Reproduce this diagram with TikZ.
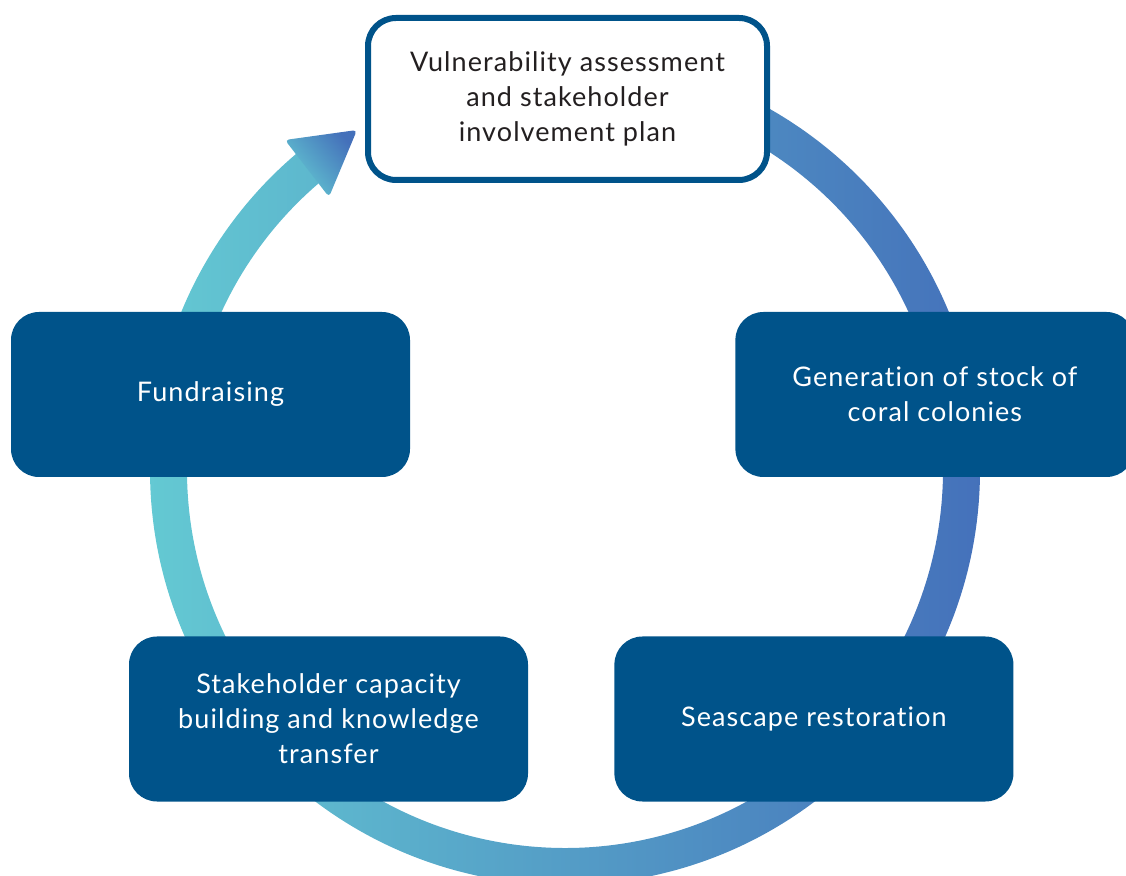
\documentclass[tikz,border=0pt]{standalone}
\usepackage{fontspec}
\setmainfont{Lato}[LetterSpace=4, Ligatures=NoCommon]
\usepackage{tikz}
\usetikzlibrary{positioning}
\definecolor{boxblue}{HTML}{00538A}
\definecolor{ringleft}{HTML}{64CAD3}
\definecolor{ringright}{HTML}{4470BA}
\definecolor{textgrey}{HTML}{231F20}
\tikzstyle{stage} = [rectangle, rounded corners=28pt, fill=boxblue, text=white, minimum width=399pt, minimum height=165pt, align=center, font=\fontsize{27}{35}\selectfont]
\tikzstyle{firststage} = [stage, fill=white, draw=boxblue, line width=6pt, text=textgrey, minimum height=162pt]

\begin{document}
\begin{tikzpicture}[x=1pt, y=1pt]
		\clip (0,0) rectangle (1126,875);
		\coordinate (c) at (565,405);
		\coordinate (hbl) at (285,735);
		\coordinate (htip) at (357,745);
		\coordinate (hbr) at (329,678);

		\shade [left color=ringleft, right color=ringright]
			([shift={(90:415)}]c) arc [start angle=90, end angle=-231, radius=415pt]
			-- ([shift={(-231:378)}]c) arc [start angle=-231, end angle=90, radius=378pt] -- cycle;
		\shade [rounded corners=4pt, left color=ringleft, right color=ringright, shading angle=130] (hbl) -- (htip) -- (hbr) -- cycle;

		\node (assess) [firststage] at (567.5,776) {Vulnerability assessment\\and stakeholder\\involvement plan};
		\node (fund) [stage] at (210.5,480.5) {Fundraising};
		\node (stock) [stage, right=325pt of fund] {Generation of stock of\\coral colonies};
		\node (stake) [stage] at (328.5,156) {Stakeholder capacity\\building and knowledge\\transfer};
		\node (sea) [stage, right=86pt of stake] {Seascape restoration};
	\end{tikzpicture}
\end{document}
